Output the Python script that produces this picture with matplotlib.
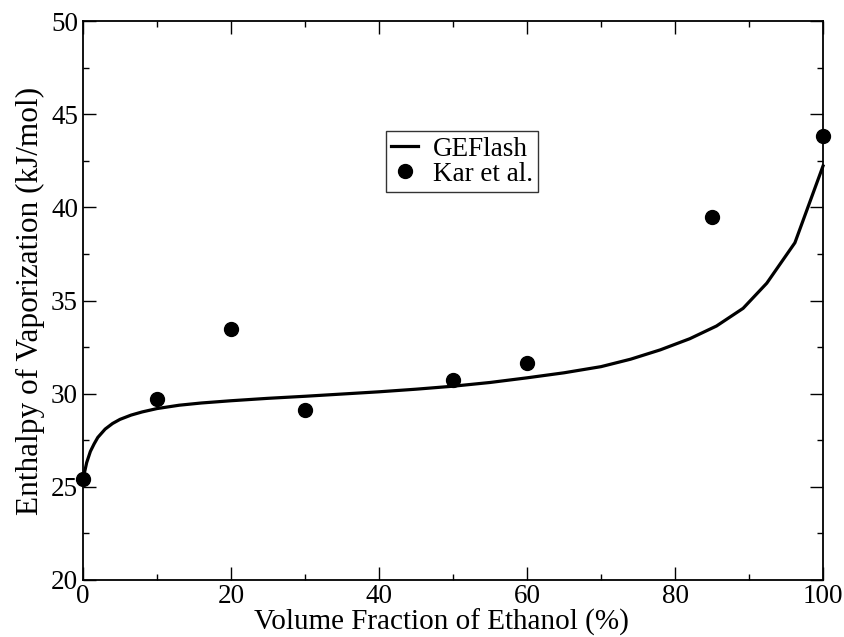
import numpy as np
import matplotlib.pyplot as plt
from matplotlib.ticker import MultipleLocator

plt.rcParams['font.family'] = ['Liberation Serif', 'DejaVu Serif']

# GEFlash model curve
model_x = [0, 0.5, 1, 1.5, 2, 3, 4, 5, 6.5, 8, 10, 13, 16, 20, 25, 30, 35, 40,
           45, 50, 55, 60, 65, 70, 74, 78, 82, 85.6, 89.2, 92.4, 96.2, 100]
model_y = [25.4, 26.3, 26.9, 27.3, 27.65, 28.1, 28.4, 28.62, 28.85, 29.02, 29.2,
           29.38, 29.5, 29.62, 29.75, 29.86, 29.98, 30.1, 30.24, 30.4, 30.6, 30.85,
           31.12, 31.45, 31.85, 32.35, 32.95, 33.63, 34.58, 35.93, 38.1, 42.22]

# Kar et al. experimental points
exp_x = [0, 10, 20, 30, 50, 60, 85, 100]
exp_y = [25.4, 29.7, 33.45, 29.15, 30.72, 31.65, 39.48, 43.83]

fig = plt.figure(figsize=(8.45, 6.37), dpi=100)
ax = fig.add_axes([0.0982, 0.0895, 0.8758, 0.8775])

ax.plot(model_x, model_y, color='black', lw=2.3, label='GEFlash', clip_on=False)
ax.plot(exp_x, exp_y, 'o', color='black', ms=10, label='Kar et al.', clip_on=False)

ax.set_xlim(0, 100)
ax.set_ylim(20, 50)
ax.xaxis.set_major_locator(MultipleLocator(20))
ax.xaxis.set_minor_locator(MultipleLocator(10))
ax.yaxis.set_major_locator(MultipleLocator(5))
ax.yaxis.set_minor_locator(MultipleLocator(2.5))
ax.tick_params(which='both', direction='in', top=True, right=True,
               labelsize=19.5, width=1)
ax.tick_params(axis='x', pad=3)
ax.tick_params(axis='y', pad=3.5)
ax.tick_params(which='major', length=9.5)
ax.tick_params(which='minor', length=4.5)
for s in ax.spines.values():
    s.set_linewidth(1.3)

ax.set_xlabel('Volume Fraction of Ethanol (%)', fontsize=21)
ax.xaxis.set_label_coords(0.4845, -0.052, transform=ax.transAxes)
ax.xaxis.label.set_va('top')
ax.set_ylabel('Enthalpy of Vaporization (kJ/mol)', fontsize=22.5, labelpad=4)

leg = ax.legend(loc='upper left', bbox_to_anchor=(0.409, 0.803), fontsize=19.5,
                frameon=True, fancybox=False, edgecolor='black',
                handlelength=1.0, handletextpad=0.55, borderpad=0.2,
                labelspacing=0.0, borderaxespad=0)
leg.get_frame().set_linewidth(1)

fig.savefig('out.png', dpi=100)
